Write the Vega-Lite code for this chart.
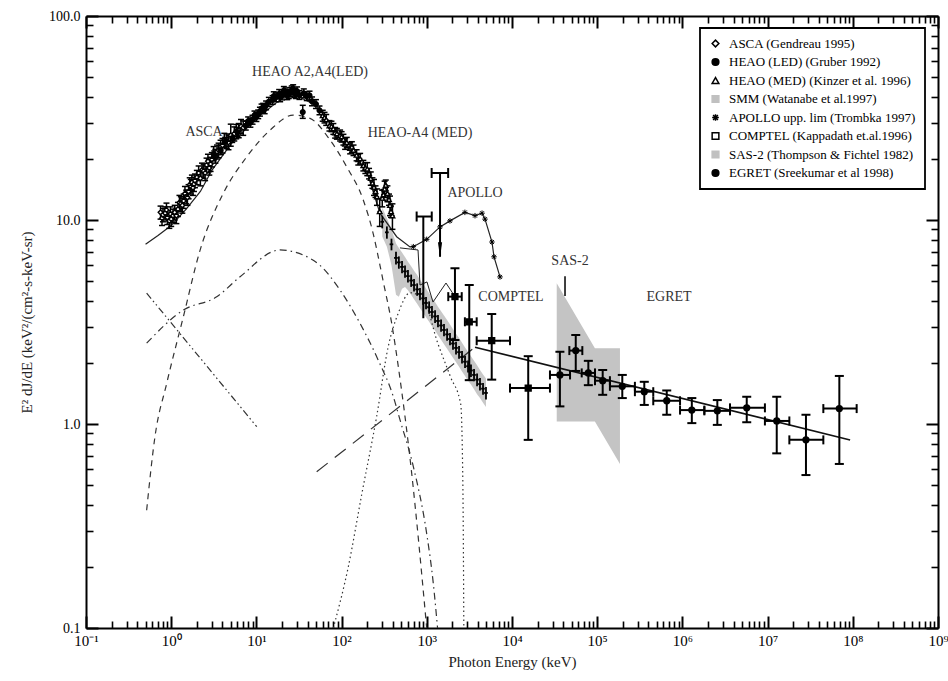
{
"$schema":"https://vega.github.io/schema/vega-lite/v6.json",
"width":852,"height":612,
"autosize":{"type":"none"},
"padding":{"left":86,"top":16,"right":10,"bottom":53},
"background":"white",
"config":{
 "view":{"stroke":null},
 "font":"Liberation Serif",
 "axis":{"domainColor":"black","domainWidth":2,"tickColor":"black","labelColor":"black","labelFont":"Liberation Serif","labelFontSize":14,"titleFont":"Liberation Serif","titleFontSize":15,"titleFontWeight":"normal","titleColor":"#222","labelOverlap":false,"labelFlush":false,"gridColor":"black","gridOpacity":1},
 "legend":{"strokeWidth":1.8}
},
"datasets":{
 "sas2":[{"E":33500,"lo":1.03,"hi":4.9},{"E":94000,"lo":1.03,"hi":2.35},{"E":185000,"lo":0.637,"hi":2.35}],
 "smm":[
  {"E":300,"y":9.8,"lo":9.1,"hi":10.5,"elo":285,"ehi":315,"blo":8.3,"bhi":11.5},
  {"E":340,"y":8.7,"lo":8.1,"hi":9.3,"elo":323,"ehi":357,"blo":7.4,"bhi":10.2},
  {"E":385,"y":7.6,"lo":7.1,"hi":8.1,"elo":366,"ehi":404,"blo":6.0,"bhi":9.0},
  {"E":435,"y":6.52,"lo":6.06,"hi":6.98,"elo":413,"ehi":457,"blo":4.3,"bhi":7.66},
  {"E":470,"y":6.2,"lo":5.77,"hi":6.63,"elo":447,"ehi":494,"blo":4.2,"bhi":7.3},
  {"E":512,"y":5.89,"lo":5.48,"hi":6.3,"elo":486,"ehi":538,"blo":4.6,"bhi":6.92},
  {"E":555,"y":5.6,"lo":5.21,"hi":5.99,"elo":527,"ehi":583,"blo":4.7,"bhi":6.58},
  {"E":601,"y":5.31,"lo":4.94,"hi":5.68,"elo":571,"ehi":631,"blo":4.52,"bhi":6.24},
  {"E":655,"y":5.05,"lo":4.7,"hi":5.4,"elo":622,"ehi":688,"blo":4.3,"bhi":5.93},
  {"E":708,"y":4.8,"lo":4.46,"hi":5.14,"elo":673,"ehi":743,"blo":4.09,"bhi":5.64},
  {"E":770,"y":4.57,"lo":4.25,"hi":4.89,"elo":732,"ehi":809,"blo":3.89,"bhi":5.37},
  {"E":832,"y":4.34,"lo":4.04,"hi":4.64,"elo":790,"ehi":874,"blo":3.69,"bhi":5.1},
  {"E":905,"y":4.13,"lo":3.84,"hi":4.42,"elo":860,"ehi":950,"blo":3.51,"bhi":4.85},
  {"E":979,"y":3.92,"lo":3.65,"hi":4.19,"elo":930,"ehi":1028,"blo":3.34,"bhi":4.61},
  {"E":1065,"y":3.73,"lo":3.47,"hi":3.99,"elo":1012,"ehi":1118,"blo":3.17,"bhi":4.38},
  {"E":1150,"y":3.54,"lo":3.29,"hi":3.79,"elo":1093,"ehi":1208,"blo":3.01,"bhi":4.16},
  {"E":1250,"y":3.37,"lo":3.13,"hi":3.61,"elo":1188,"ehi":1313,"blo":2.87,"bhi":3.96},
  {"E":1353,"y":3.2,"lo":2.98,"hi":3.42,"elo":1285,"ehi":1421,"blo":2.72,"bhi":3.76},
  {"E":1470,"y":3.04,"lo":2.83,"hi":3.25,"elo":1397,"ehi":1544,"blo":2.59,"bhi":3.57},
  {"E":1592,"y":2.89,"lo":2.69,"hi":3.09,"elo":1512,"ehi":1672,"blo":2.46,"bhi":3.4},
  {"E":1730,"y":2.75,"lo":2.56,"hi":2.94,"elo":1644,"ehi":1817,"blo":2.34,"bhi":3.23},
  {"E":1872,"y":2.61,"lo":2.43,"hi":2.79,"elo":1778,"ehi":1966,"blo":2.22,"bhi":3.07},
  {"E":2030,"y":2.48,"lo":2.31,"hi":2.65,"elo":1929,"ehi":2132,"blo":2.11,"bhi":2.91},
  {"E":2203,"y":2.36,"lo":2.19,"hi":2.53,"elo":2093,"ehi":2313,"blo":2.01,"bhi":2.77},
  {"E":2390,"y":2.25,"lo":2.09,"hi":2.41,"elo":2271,"ehi":2510,"blo":1.91,"bhi":2.64},
  {"E":2590,"y":2.13,"lo":1.98,"hi":2.28,"elo":2460,"ehi":2720,"blo":1.81,"bhi":2.5},
  {"E":2810,"y":2.02,"lo":1.88,"hi":2.16,"elo":2670,"ehi":2950,"blo":1.72,"bhi":2.37},
  {"E":3048,"y":1.92,"lo":1.79,"hi":2.05,"elo":2896,"ehi":3200,"blo":1.63,"bhi":2.26},
  {"E":3300,"y":1.83,"lo":1.7,"hi":1.96,"elo":3135,"ehi":3465,"blo":1.56,"bhi":2.15},
  {"E":3584,"y":1.74,"lo":1.62,"hi":1.86,"elo":3405,"ehi":3763,"blo":1.48,"bhi":2.04},
  {"E":3890,"y":1.65,"lo":1.53,"hi":1.77,"elo":3696,"ehi":4085,"blo":1.4,"bhi":1.94},
  {"E":4210,"y":1.57,"lo":1.46,"hi":1.68,"elo":4000,"ehi":4420,"blo":1.34,"bhi":1.84},
  {"E":4570,"y":1.49,"lo":1.39,"hi":1.59,"elo":4342,"ehi":4799,"blo":1.27,"bhi":1.75},
  {"E":4950,"y":1.42,"lo":1.32,"hi":1.52,"elo":4700,"ehi":5200,"blo":1.21,"bhi":1.67}
 ],
 "comps":[
  {"comp":"gauss","E":0.515,"y":0.378},{"comp":"gauss","E":0.645,"y":0.867},{"comp":"gauss","E":0.885,"y":1.58},{"comp":"gauss","E":1.39,"y":3.36},{"comp":"gauss","E":2.18,"y":7.1},{"comp":"gauss","E":4.08,"y":13.5},{"comp":"gauss","E":7.7,"y":20.4},{"comp":"gauss","E":14.5,"y":27.6},{"comp":"gauss","E":27.1,"y":32.7},{"comp":"gauss","E":42.6,"y":31.5},{"comp":"gauss","E":73,"y":24.7},{"comp":"gauss","E":115,"y":18.2},{"comp":"gauss","E":180,"y":12.5},{"comp":"gauss","E":236,"y":8.5},{"comp":"gauss","E":282,"y":6.0},{"comp":"gauss","E":308,"y":5.0},{"comp":"gauss","E":387,"y":3.12},{"comp":"gauss","E":463,"y":1.91},{"comp":"gauss","E":658,"y":0.596},{"comp":"gauss","E":997,"y":0.1},
  {"comp":"dashdot","E":0.515,"y":2.49},{"comp":"dashdot","E":1.39,"y":3.62},{"comp":"dashdot","E":3.42,"y":4.2},{"comp":"dashdot","E":6.43,"y":5.27},{"comp":"dashdot","E":18.9,"y":7.13},{"comp":"dashdot","E":35.5,"y":6.73},{"comp":"dashdot","E":55.7,"y":6.0},{"comp":"dashdot","E":95.7,"y":4.54},{"comp":"dashdot","E":164,"y":3.12},{"comp":"dashdot","E":270,"y":2.05},{"comp":"dashdot","E":405,"y":1.36},{"comp":"dashdot","E":484,"y":1.05},{"comp":"dashdot","E":695,"y":0.618},{"comp":"dashdot","E":996,"y":0.291},{"comp":"dashdot","E":1191,"y":0.166},{"comp":"dashdot","E":1337,"y":0.1},
  {"comp":"dashdotdot","E":0.515,"y":4.38},{"comp":"dashdotdot","E":10.1,"y":0.97},
  {"comp":"dotted","E":80,"y":0.1},{"comp":"dotted","E":120,"y":0.2},{"comp":"dotted","E":172,"y":0.45},{"comp":"dotted","E":258,"y":1.09},{"comp":"dotted","E":353,"y":2.4},{"comp":"dotted","E":463,"y":3.5},{"comp":"dotted","E":635,"y":4.4},{"comp":"dotted","E":910,"y":4.1},{"comp":"dotted","E":1340,"y":2.5},{"comp":"dotted","E":1900,"y":1.7},{"comp":"dotted","E":2500,"y":1.25},{"comp":"dotted","E":2620,"y":0.7},{"comp":"dotted","E":2680,"y":0.3},{"comp":"dotted","E":2720,"y":0.1},
  {"comp":"longdash","E":51,"y":0.583},{"comp":"longdash","E":3680,"y":2.38}
 ],
 "model":[
  {"E":0.5,"y":7.6},{"E":0.7,"y":8.4},{"E":1.0,"y":9.4},{"E":1.5,"y":11.3},{"E":2.2,"y":13.8},{"E":3,"y":17.5},{"E":5,"y":23.5},{"E":10,"y":31.5},{"E":20,"y":39.5},{"E":30,"y":40.5},{"E":50,"y":36.5},{"E":100,"y":25.5},{"E":200,"y":17.0},{"E":282,"y":10.8},{"E":443,"y":8.28},{"E":635,"y":7.38},{"E":695,"y":7.4},{"E":998,"y":8.04},{"E":1430,"y":9.25},{"E":1870,"y":9.9},{"E":2800,"y":10.9},{"E":3680,"y":10.5},{"E":4450,"y":10.8},{"E":4820,"y":10.1},{"E":5820,"y":7.8},{"E":6150,"y":6.6},{"E":7230,"y":5.26}
 ],
 "apollo":[
  {"E":695,"y":7.4,"src":"APOLLO upp. lim (Trombka 1997)"},{"E":998,"y":8.04,"src":"APOLLO upp. lim (Trombka 1997)"},{"E":1430,"y":9.25,"src":"APOLLO upp. lim (Trombka 1997)"},{"E":1870,"y":9.9,"src":"APOLLO upp. lim (Trombka 1997)"},{"E":2800,"y":10.9,"src":"APOLLO upp. lim (Trombka 1997)"},{"E":3680,"y":10.5,"src":"APOLLO upp. lim (Trombka 1997)"},{"E":4450,"y":10.8,"src":"APOLLO upp. lim (Trombka 1997)"},{"E":4820,"y":10.1,"src":"APOLLO upp. lim (Trombka 1997)"},{"E":5820,"y":7.8,"src":"APOLLO upp. lim (Trombka 1997)"},{"E":6150,"y":6.6,"src":"APOLLO upp. lim (Trombka 1997)"},{"E":7230,"y":5.26,"src":"APOLLO upp. lim (Trombka 1997)"}
 ],
 "egl":[{"E":3680,"y":2.38},{"E":93000000,"y":0.835}],
 "jag":[{"E":484,"y":7.3},{"E":789,"y":7.13},{"E":832,"y":4.8},{"E":1005,"y":4.97},{"E":1182,"y":3.96},{"E":1680,"y":4.91},{"E":1976,"y":4.43},{"E":2203,"y":4.15}],
 "sastick":[{"E":41900,"lo":4.24,"hi":5.3}],
 "ul":[{"E":1430,"top":17.0,"bot":6.6,"elo":1140,"ehi":1780},{"E":910,"top":10.4,"bot":3.3,"elo":760,"ehi":1143}],
 "arrow":[{"E":1430,"y":7.15}],
 "gam":[
  {"E":2140,"y":4.21,"lo":2.58,"hi":5.8,"elo":1786,"ehi":2570,"src":"COMPTEL (Kappadath et.al.1996)"},
  {"E":3150,"y":3.17,"lo":1.64,"hi":4.8,"elo":2800,"ehi":3850,"src":"COMPTEL (Kappadath et.al.1996)"},
  {"E":5780,"y":2.56,"lo":1.65,"hi":3.46,"elo":3850,"ehi":9480,"src":"COMPTEL (Kappadath et.al.1996)"},
  {"E":15500,"y":1.5,"lo":0.836,"hi":2.15,"elo":9480,"ehi":27900,"src":"COMPTEL (Kappadath et.al.1996)"},
  {"E":36500,"y":1.74,"lo":1.22,"hi":2.26,"elo":27900,"ehi":48000,"src":"EGRET (Sreekumar et al 1998)"},
  {"E":56000,"y":2.29,"lo":1.82,"hi":2.73,"elo":47100,"ehi":66900,"src":"EGRET (Sreekumar et al 1998)"},
  {"E":78700,"y":1.78,"lo":1.55,"hi":2.04,"elo":65800,"ehi":94200,"src":"EGRET (Sreekumar et al 1998)"},
  {"E":116000,"y":1.63,"lo":1.39,"hi":1.84,"elo":94200,"ehi":141000,"src":"EGRET (Sreekumar et al 1998)"},
  {"E":197000,"y":1.53,"lo":1.34,"hi":1.74,"elo":141000,"ehi":277000,"src":"EGRET (Sreekumar et al 1998)"},
  {"E":357000,"y":1.44,"lo":1.24,"hi":1.61,"elo":277000,"ehi":455000,"src":"EGRET (Sreekumar et al 1998)"},
  {"E":655000,"y":1.3,"lo":1.11,"hi":1.46,"elo":455000,"ehi":938000,"src":"EGRET (Sreekumar et al 1998)"},
  {"E":1290000,"y":1.17,"lo":1.01,"hi":1.34,"elo":938000,"ehi":1810000,"src":"EGRET (Sreekumar et al 1998)"},
  {"E":2570000,"y":1.16,"lo":0.99,"hi":1.31,"elo":1810000,"ehi":3620000,"src":"EGRET (Sreekumar et al 1998)"},
  {"E":5690000,"y":1.2,"lo":1.02,"hi":1.36,"elo":3620000,"ehi":9300000,"src":"EGRET (Sreekumar et al 1998)"},
  {"E":12800000,"y":1.035,"lo":0.718,"hi":1.36,"elo":9300000,"ehi":18000000,"src":"EGRET (Sreekumar et al 1998)"},
  {"E":28200000,"y":0.836,"lo":0.562,"hi":1.11,"elo":18000000,"ehi":45100000,"src":"EGRET (Sreekumar et al 1998)"},
  {"E":69500000,"y":1.19,"lo":0.637,"hi":1.72,"elo":45100000,"ehi":111000000,"src":"EGRET (Sreekumar et al 1998)"}
 ],
 "heao":[
  {"E":0.75,"y":10.9,"lo":10.1,"hi":11.7,"elo":0.7,"ehi":0.8,"src":"ASCA (Gendreau 1995)"},
  {"E":0.78,"y":10.2,"lo":9.4,"hi":11.0,"elo":0.74,"ehi":0.82,"src":"ASCA (Gendreau 1995)"},
  {"E":0.8,"y":10.6,"lo":9.8,"hi":11.4,"elo":0.74,"ehi":0.86,"src":"ASCA (Gendreau 1995)"},
  {"E":0.85,"y":10.8,"lo":10.0,"hi":11.6,"elo":0.79,"ehi":0.91,"src":"ASCA (Gendreau 1995)"},
  {"E":0.88,"y":11.2,"lo":10.3,"hi":12.1,"elo":0.84,"ehi":0.92,"src":"ASCA (Gendreau 1995)"},
  {"E":0.9,"y":10.3,"lo":9.5,"hi":11.1,"elo":0.84,"ehi":0.96,"src":"ASCA (Gendreau 1995)"},
  {"E":0.95,"y":9.9,"lo":9.1,"hi":10.7,"elo":0.88,"ehi":1.02,"src":"ASCA (Gendreau 1995)"},
  {"E":0.98,"y":10.7,"lo":9.8,"hi":11.6,"elo":0.93,"ehi":1.03,"src":"ASCA (Gendreau 1995)"},
  {"E":1.0,"y":10.1,"lo":9.3,"hi":10.9,"elo":0.93,"ehi":1.07,"src":"ASCA (Gendreau 1995)"},
  {"E":1.05,"y":10.5,"lo":9.7,"hi":11.3,"elo":0.98,"ehi":1.12,"src":"ASCA (Gendreau 1995)"},
  {"E":1.1,"y":10.9,"lo":10.0,"hi":11.8,"elo":1.02,"ehi":1.18,"src":"ASCA (Gendreau 1995)"},
  {"E":1.15,"y":10.5,"lo":9.6,"hi":11.4,"elo":1.09,"ehi":1.21,"src":"ASCA (Gendreau 1995)"},
  {"E":1.2,"y":11.3,"lo":10.4,"hi":12.2,"elo":1.12,"ehi":1.28,"src":"ASCA (Gendreau 1995)"},
  {"E":1.25,"y":12.2,"lo":11.2,"hi":13.2,"elo":1.19,"ehi":1.31,"src":"ASCA (Gendreau 1995)"},
  {"E":1.3,"y":12.0,"lo":11.0,"hi":13.0,"elo":1.21,"ehi":1.39,"src":"ASCA (Gendreau 1995)"},
  {"E":1.35,"y":11.8,"lo":10.8,"hi":12.8,"elo":1.28,"ehi":1.42,"src":"ASCA (Gendreau 1995)"},
  {"E":1.4,"y":12.4,"lo":11.4,"hi":13.4,"elo":1.3,"ehi":1.5,"src":"ASCA (Gendreau 1995)"},
  {"E":1.45,"y":13.5,"lo":12.4,"hi":14.6,"elo":1.38,"ehi":1.52,"src":"ASCA (Gendreau 1995)"},
  {"E":1.5,"y":13.0,"lo":12.0,"hi":14.0,"elo":1.4,"ehi":1.6,"src":"ASCA (Gendreau 1995)"},
  {"E":1.55,"y":12.9,"lo":11.8,"hi":14.0,"elo":1.47,"ehi":1.63,"src":"ASCA (Gendreau 1995)"},
  {"E":1.6,"y":13.8,"lo":12.7,"hi":14.9,"elo":1.49,"ehi":1.71,"src":"ASCA (Gendreau 1995)"},
  {"E":1.65,"y":14.9,"lo":13.7,"hi":16.1,"elo":1.57,"ehi":1.73,"src":"ASCA (Gendreau 1995)"},
  {"E":1.7,"y":14.6,"lo":13.4,"hi":15.8,"elo":1.58,"ehi":1.82,"src":"ASCA (Gendreau 1995)"},
  {"E":1.75,"y":15.3,"lo":14.0,"hi":16.6,"elo":1.66,"ehi":1.84,"src":"ASCA (Gendreau 1995)"},
  {"E":1.8,"y":14.4,"lo":13.2,"hi":15.6,"elo":1.67,"ehi":1.93,"src":"ASCA (Gendreau 1995)"},
  {"E":1.85,"y":15.0,"lo":13.8,"hi":16.2,"elo":1.76,"ehi":1.94,"src":"ASCA (Gendreau 1995)"},
  {"E":1.9,"y":15.6,"lo":14.4,"hi":16.8,"elo":1.77,"ehi":2.03,"src":"ASCA (Gendreau 1995)"},
  {"E":2.0,"y":16.2,"lo":14.9,"hi":17.5,"elo":1.86,"ehi":2.14,"src":"ASCA (Gendreau 1995)"},
  {"E":2.1,"y":17.0,"lo":15.6,"hi":18.4,"elo":2.0,"ehi":2.2,"src":"ASCA (Gendreau 1995)"},
  {"E":2.2,"y":16.0,"lo":14.7,"hi":17.3,"elo":2.05,"ehi":2.35,"src":"ASCA (Gendreau 1995)"},
  {"E":2.3,"y":17.6,"lo":16.2,"hi":19.0,"elo":2.19,"ehi":2.41,"src":"ASCA (Gendreau 1995)"},
  {"E":2.4,"y":17.4,"lo":16.0,"hi":18.8,"elo":2.23,"ehi":2.57,"src":"ASCA (Gendreau 1995)"},
  {"E":2.5,"y":17.0,"lo":15.6,"hi":18.4,"elo":2.38,"ehi":2.62,"src":"ASCA (Gendreau 1995)"},
  {"E":2.6,"y":18.6,"lo":17.1,"hi":20.1,"elo":2.42,"ehi":2.78,"src":"ASCA (Gendreau 1995)"},
  {"E":2.7,"y":19.4,"lo":17.8,"hi":21.0,"elo":2.57,"ehi":2.83,"src":"ASCA (Gendreau 1995)"},
  {"E":2.8,"y":18.0,"lo":16.6,"hi":19.4,"elo":2.6,"ehi":3.0,"src":"ASCA (Gendreau 1995)"},
  {"E":2.9,"y":18.8,"lo":17.3,"hi":20.3,"elo":2.76,"ehi":3.04,"src":"ASCA (Gendreau 1995)"},
  {"E":3.0,"y":19.8,"lo":18.2,"hi":21.4,"elo":2.79,"ehi":3.21,"src":"ASCA (Gendreau 1995)"},
  {"E":3.15,"y":21.2,"lo":19.5,"hi":22.9,"elo":3.0,"ehi":3.3,"src":"ASCA (Gendreau 1995)"},
  {"E":3.3,"y":20.6,"lo":19.0,"hi":22.2,"elo":3.07,"ehi":3.53,"src":"ASCA (Gendreau 1995)"},
  {"E":3.45,"y":21.6,"lo":19.9,"hi":23.3,"elo":3.28,"ehi":3.62,"src":"ASCA (Gendreau 1995)"},
  {"E":3.6,"y":22.0,"lo":20.2,"hi":23.8,"elo":3.35,"ehi":3.85,"src":"ASCA (Gendreau 1995)"},
  {"E":3.8,"y":22.8,"lo":21.0,"hi":24.6,"elo":3.61,"ehi":3.99,"src":"ASCA (Gendreau 1995)"},
  {"E":4.0,"y":23.2,"lo":21.3,"hi":25.1,"elo":3.72,"ehi":4.28,"src":"ASCA (Gendreau 1995)"},
  {"E":4.2,"y":24.6,"lo":22.6,"hi":26.6,"elo":4.0,"ehi":4.4,"src":"ASCA (Gendreau 1995)"},
  {"E":4.5,"y":24.4,"lo":22.4,"hi":26.4,"elo":4.19,"ehi":4.81,"src":"ASCA (Gendreau 1995)"},
  {"E":4.7,"y":24.0,"lo":22.1,"hi":25.9,"elo":4.47,"ehi":4.93,"src":"ASCA (Gendreau 1995)"},
  {"E":5.0,"y":26.0,"lo":23.0,"hi":29.5,"elo":4.65,"ehi":5.35,"src":"ASCA (Gendreau 1995)"},
  {"E":5.5,"y":26.5,"lo":24.4,"hi":28.6,"elo":5.12,"ehi":5.88,"src":"ASCA (Gendreau 1995)"},
  {"E":5.8,"y":27.2,"lo":25.0,"hi":29.4,"elo":5.5,"ehi":6.1,"src":"ASCA (Gendreau 1995)"},
  {"E":6.2,"y":27.5,"lo":25.3,"hi":29.7,"elo":5.77,"ehi":6.63,"src":"ASCA (Gendreau 1995)"},
  {"E":6.6,"y":28.8,"lo":26.5,"hi":31.1,"elo":6.3,"ehi":6.9,"src":"ASCA (Gendreau 1995)"},
  {"E":7.0,"y":28.3,"lo":26.0,"hi":30.6,"elo":6.51,"ehi":7.49,"src":"ASCA (Gendreau 1995)"},
  {"E":3.2,"y":20.8,"lo":19.8,"hi":21.8,"elo":3.01,"ehi":3.39,"src":"HEAO (LED) (Gruber 1992)"},
  {"E":3.8,"y":22.0,"lo":20.9,"hi":23.1,"elo":3.57,"ehi":4.03,"src":"HEAO (LED) (Gruber 1992)"},
  {"E":4.3,"y":24.2,"lo":23.0,"hi":25.4,"elo":4.04,"ehi":4.56,"src":"HEAO (LED) (Gruber 1992)"},
  {"E":5.2,"y":25.2,"lo":24.0,"hi":26.5,"elo":4.89,"ehi":5.51,"src":"HEAO (LED) (Gruber 1992)"},
  {"E":6.0,"y":27.0,"lo":25.7,"hi":28.4,"elo":5.64,"ehi":6.36,"src":"HEAO (LED) (Gruber 1992)"},
  {"E":7.5,"y":29.0,"lo":27.6,"hi":30.5,"elo":7.05,"ehi":7.95,"src":"HEAO (LED) (Gruber 1992)"},
  {"E":8.0,"y":30.5,"lo":29.0,"hi":32.0,"elo":7.52,"ehi":8.48,"src":"HEAO (LED) (Gruber 1992)"},
  {"E":8.5,"y":30.0,"lo":28.5,"hi":31.5,"elo":8.0,"ehi":9.0,"src":"HEAO (LED) (Gruber 1992)"},
  {"E":9.0,"y":31.0,"lo":29.5,"hi":32.6,"elo":8.46,"ehi":9.54,"src":"HEAO (LED) (Gruber 1992)"},
  {"E":9.5,"y":32.6,"lo":31.0,"hi":34.2,"elo":8.9,"ehi":10.1,"src":"HEAO (LED) (Gruber 1992)"},
  {"E":10,"y":32.0,"lo":30.4,"hi":33.6,"elo":9.4,"ehi":10.6,"src":"HEAO (LED) (Gruber 1992)"},
  {"E":10.5,"y":33.0,"lo":31.4,"hi":34.6,"elo":9.9,"ehi":11.1,"src":"HEAO (LED) (Gruber 1992)"},
  {"E":11,"y":34.0,"lo":32.3,"hi":35.7,"elo":10.3,"ehi":11.7,"src":"HEAO (LED) (Gruber 1992)"},
  {"E":11.5,"y":35.2,"lo":33.4,"hi":37.0,"elo":10.8,"ehi":12.2,"src":"HEAO (LED) (Gruber 1992)"},
  {"E":12,"y":35.5,"lo":33.7,"hi":37.3,"elo":11.3,"ehi":12.7,"src":"HEAO (LED) (Gruber 1992)"},
  {"E":12.5,"y":35.0,"lo":33.2,"hi":36.8,"elo":11.8,"ehi":13.2,"src":"HEAO (LED) (Gruber 1992)"},
  {"E":13,"y":36.5,"lo":34.7,"hi":38.3,"elo":12.2,"ehi":13.8,"src":"HEAO (LED) (Gruber 1992)"},
  {"E":14,"y":38.0,"lo":36.1,"hi":39.9,"elo":13.2,"ehi":14.8,"src":"HEAO (LED) (Gruber 1992)"},
  {"E":15.5,"y":38.8,"lo":36.9,"hi":40.7,"elo":14.6,"ehi":16.4,"src":"HEAO (LED) (Gruber 1992)"},
  {"E":16,"y":40.5,"lo":38.5,"hi":42.5,"elo":15.0,"ehi":17.0,"src":"HEAO (LED) (Gruber 1992)"},
  {"E":17,"y":40.0,"lo":38.0,"hi":42.0,"elo":16.0,"ehi":18.0,"src":"HEAO (LED) (Gruber 1992)"},
  {"E":18.5,"y":41.5,"lo":39.4,"hi":43.6,"elo":17.4,"ehi":19.6,"src":"HEAO (LED) (Gruber 1992)"},
  {"E":19,"y":40.0,"lo":38.0,"hi":42.0,"elo":17.9,"ehi":20.1,"src":"HEAO (LED) (Gruber 1992)"},
  {"E":20,"y":40.8,"lo":38.8,"hi":42.8,"elo":18.8,"ehi":21.2,"src":"HEAO (LED) (Gruber 1992)"},
  {"E":21,"y":43.0,"lo":40.9,"hi":45.1,"elo":19.7,"ehi":22.3,"src":"HEAO (LED) (Gruber 1992)"},
  {"E":22,"y":42.3,"lo":40.2,"hi":44.4,"elo":20.7,"ehi":23.3,"src":"HEAO (LED) (Gruber 1992)"},
  {"E":23,"y":40.9,"lo":38.9,"hi":42.9,"elo":21.6,"ehi":24.4,"src":"HEAO (LED) (Gruber 1992)"},
  {"E":24,"y":41.5,"lo":39.4,"hi":43.6,"elo":22.6,"ehi":25.4,"src":"HEAO (LED) (Gruber 1992)"},
  {"E":25,"y":42.5,"lo":40.4,"hi":44.6,"elo":23.5,"ehi":26.5,"src":"HEAO (LED) (Gruber 1992)"},
  {"E":26,"y":43.2,"lo":41.0,"hi":45.4,"elo":24.4,"ehi":27.6,"src":"HEAO (LED) (Gruber 1992)"},
  {"E":27,"y":43.8,"lo":41.6,"hi":46.0,"elo":25.4,"ehi":28.6,"src":"HEAO (LED) (Gruber 1992)"},
  {"E":28,"y":42.0,"lo":39.9,"hi":44.1,"elo":26.3,"ehi":29.7,"src":"HEAO (LED) (Gruber 1992)"},
  {"E":29,"y":41.5,"lo":39.4,"hi":43.6,"elo":27.3,"ehi":30.7,"src":"HEAO (LED) (Gruber 1992)"},
  {"E":30,"y":42.8,"lo":40.7,"hi":44.9,"elo":28.2,"ehi":31.8,"src":"HEAO (LED) (Gruber 1992)"},
  {"E":32,"y":41.0,"lo":39.0,"hi":43.0,"elo":30.1,"ehi":33.9,"src":"HEAO (LED) (Gruber 1992)"},
  {"E":35,"y":33.8,"lo":31.5,"hi":36.5,"elo":32.9,"ehi":37.1,"src":"HEAO (LED) (Gruber 1992)"},
  {"E":36,"y":41.8,"lo":39.7,"hi":43.9,"elo":33.8,"ehi":38.2,"src":"HEAO (LED) (Gruber 1992)"},
  {"E":39,"y":40.5,"lo":38.5,"hi":42.5,"elo":36.7,"ehi":41.3,"src":"HEAO (LED) (Gruber 1992)"},
  {"E":42,"y":40.8,"lo":38.8,"hi":42.8,"elo":39.5,"ehi":44.5,"src":"HEAO (LED) (Gruber 1992)"},
  {"E":45,"y":38.2,"lo":36.3,"hi":40.1,"elo":42.3,"ehi":47.7,"src":"HEAO (LED) (Gruber 1992)"},
  {"E":50,"y":37.0,"lo":35.2,"hi":38.9,"elo":47,"ehi":53,"src":"HEAO (LED) (Gruber 1992)"},
  {"E":55,"y":34.5,"lo":32.8,"hi":36.2,"elo":51.7,"ehi":58.3,"src":"HEAO (LED) (Gruber 1992)"},
  {"E":60,"y":32.5,"lo":30.5,"hi":34.5,"elo":56.4,"ehi":63.6,"src":"HEAO (MED) (Kinzer et al. 1996)"},
  {"E":63,"y":31.8,"lo":29.9,"hi":33.7,"elo":59,"ehi":67,"src":"HEAO (MED) (Kinzer et al. 1996)"},
  {"E":66,"y":31.0,"lo":29.1,"hi":32.9,"elo":62,"ehi":70,"src":"HEAO (MED) (Kinzer et al. 1996)"},
  {"E":72,"y":29.0,"lo":27.3,"hi":30.7,"elo":67.7,"ehi":76.3,"src":"HEAO (MED) (Kinzer et al. 1996)"},
  {"E":76,"y":28.8,"lo":27.1,"hi":30.5,"elo":71,"ehi":81,"src":"HEAO (MED) (Kinzer et al. 1996)"},
  {"E":80,"y":28.0,"lo":26.3,"hi":29.7,"elo":75.2,"ehi":84.8,"src":"HEAO (MED) (Kinzer et al. 1996)"},
  {"E":84,"y":26.8,"lo":25.2,"hi":28.4,"elo":79,"ehi":89,"src":"HEAO (MED) (Kinzer et al. 1996)"},
  {"E":88,"y":26.5,"lo":24.9,"hi":28.1,"elo":82.7,"ehi":93.3,"src":"HEAO (MED) (Kinzer et al. 1996)"},
  {"E":96,"y":26.0,"lo":24.4,"hi":27.6,"elo":90.2,"ehi":101.8,"src":"HEAO (MED) (Kinzer et al. 1996)"},
  {"E":100,"y":25.6,"lo":24.1,"hi":27.1,"elo":94,"ehi":106,"src":"HEAO (MED) (Kinzer et al. 1996)"},
  {"E":105,"y":24.8,"lo":23.3,"hi":26.3,"elo":98.7,"ehi":111.3,"src":"HEAO (MED) (Kinzer et al. 1996)"},
  {"E":110,"y":23.6,"lo":22.2,"hi":25.0,"elo":103,"ehi":117,"src":"HEAO (MED) (Kinzer et al. 1996)"},
  {"E":115,"y":24.0,"lo":22.6,"hi":25.4,"elo":108,"ehi":122,"src":"HEAO (MED) (Kinzer et al. 1996)"},
  {"E":126,"y":22.5,"lo":21.1,"hi":23.9,"elo":118,"ehi":134,"src":"HEAO (MED) (Kinzer et al. 1996)"},
  {"E":132,"y":22.8,"lo":21.4,"hi":24.2,"elo":124,"ehi":140,"src":"HEAO (MED) (Kinzer et al. 1996)"},
  {"E":138,"y":22.0,"lo":20.7,"hi":23.3,"elo":130,"ehi":146,"src":"HEAO (MED) (Kinzer et al. 1996)"},
  {"E":150,"y":20.8,"lo":19.5,"hi":22.1,"elo":141,"ehi":159,"src":"HEAO (MED) (Kinzer et al. 1996)"},
  {"E":157,"y":19.8,"lo":18.6,"hi":21.0,"elo":148,"ehi":166,"src":"HEAO (MED) (Kinzer et al. 1996)"},
  {"E":165,"y":20.0,"lo":18.8,"hi":21.2,"elo":155,"ehi":175,"src":"HEAO (MED) (Kinzer et al. 1996)"},
  {"E":180,"y":18.5,"lo":17.4,"hi":19.6,"elo":169,"ehi":191,"src":"HEAO (MED) (Kinzer et al. 1996)"},
  {"E":190,"y":18.0,"lo":16.9,"hi":19.1,"elo":179,"ehi":201,"src":"HEAO (MED) (Kinzer et al. 1996)"},
  {"E":200,"y":17.8,"lo":16.5,"hi":19.1,"elo":188,"ehi":212,"src":"HEAO (MED) (Kinzer et al. 1996)"},
  {"E":210,"y":16.9,"lo":15.9,"hi":17.9,"elo":197,"ehi":223,"src":"HEAO (MED) (Kinzer et al. 1996)"},
  {"E":220,"y":16.0,"lo":14.8,"hi":17.2,"elo":207,"ehi":233,"src":"HEAO (MED) (Kinzer et al. 1996)"},
  {"E":230,"y":15.2,"lo":14.3,"hi":16.1,"elo":216,"ehi":244,"src":"HEAO (MED) (Kinzer et al. 1996)"},
  {"E":240,"y":14.5,"lo":13.2,"hi":15.8,"elo":226,"ehi":254,"src":"HEAO (MED) (Kinzer et al. 1996)"},
  {"E":250,"y":13.8,"lo":12.9,"hi":14.7,"elo":235,"ehi":265,"src":"HEAO (MED) (Kinzer et al. 1996)"},
  {"E":260,"y":13.0,"lo":11.8,"hi":14.2,"elo":244,"ehi":276,"src":"HEAO (MED) (Kinzer et al. 1996)"},
  {"E":280,"y":11.0,"lo":9.3,"hi":12.7,"elo":263,"ehi":297,"src":"HEAO (MED) (Kinzer et al. 1996)"},
  {"E":300,"y":12.8,"lo":11.6,"hi":14.0,"elo":282,"ehi":318,"src":"HEAO (MED) (Kinzer et al. 1996)"},
  {"E":310,"y":13.3,"lo":12.5,"hi":14.1,"elo":291,"ehi":329,"src":"HEAO (MED) (Kinzer et al. 1996)"},
  {"E":320,"y":14.2,"lo":12.9,"hi":15.5,"elo":301,"ehi":339,"src":"HEAO (MED) (Kinzer et al. 1996)"},
  {"E":330,"y":14.8,"lo":13.9,"hi":15.7,"elo":310,"ehi":350,"src":"HEAO (MED) (Kinzer et al. 1996)"},
  {"E":345,"y":13.5,"lo":12.3,"hi":14.7,"elo":324,"ehi":366,"src":"HEAO (MED) (Kinzer et al. 1996)"},
  {"E":360,"y":12.6,"lo":11.8,"hi":13.4,"elo":338,"ehi":382,"src":"HEAO (MED) (Kinzer et al. 1996)"},
  {"E":370,"y":11.8,"lo":10.5,"hi":13.1,"elo":348,"ehi":392,"src":"HEAO (MED) (Kinzer et al. 1996)"},
  {"E":380,"y":11.0,"lo":10.3,"hi":11.7,"elo":357,"ehi":403,"src":"HEAO (MED) (Kinzer et al. 1996)"},
  {"E":395,"y":10.5,"lo":9.0,"hi":12.0,"elo":371,"ehi":419,"src":"HEAO (MED) (Kinzer et al. 1996)"}
 ],
 "labels":[
  {"E":42.6,"y":53.1,"t":"HEAO A2,A4(LED)"},
  {"E":2.43,"y":27.0,"t":"ASCA"},
  {"E":832,"y":26.7,"t":"HEAO-A4 (MED)"},
  {"E":3680,"y":13.6,"t":"APOLLO"},
  {"E":9730,"y":4.2,"t":"COMPTEL"},
  {"E":48000,"y":6.3,"t":"SAS-2"},
  {"E":697000,"y":4.2,"t":"EGRET"}
 ]
},
"layer":[
  {"data":{"name":"sas2"},"mark":{"type":"area","color":"#c4c4c4","opacity":1},
   "encoding":{
    "x":{"field":"E","type":"quantitative","scale":{"type":"log","domain":[0.1,1000000000],"nice":false},
      "axis":{"orient":"bottom","values":[0.1,0.2,0.3,0.4,0.5,0.6,0.7,0.8,0.9,1,2,3,4,5,6,7,8,9,10,20,30,40,50,60,70,80,90,100,200,300,400,500,600,700,800,900,1000,2000,3000,4000,5000,6000,7000,8000,9000,10000,20000,30000,40000,50000,60000,70000,80000,90000,100000,200000,300000,400000,500000,600000,700000,800000,900000,1000000,2000000,3000000,4000000,5000000,6000000,7000000,8000000,9000000,10000000,20000000,30000000,40000000,50000000,60000000,70000000,80000000,90000000,100000000,200000000,300000000,400000000,500000000,600000000,700000000,800000000,900000000,1000000000],
       "ticks":false,"grid":true,
       "gridDash":{"condition":{"test":"abs(log(datum.value)/LN10-round(log(datum.value)/LN10))<0.001","value":[12,3000]},"value":[7,3000]},
       "gridWidth":{"condition":{"test":"abs(log(datum.value)/LN10-round(log(datum.value)/LN10))<0.001","value":2},"value":1.6},
       "labelExpr":"abs(log(datum.value)/LN10-round(log(datum.value)/LN10))<0.001 ? '10'+['⁻¹','⁰','¹','²','³','⁴','⁵','⁶','⁷','⁸','⁹'][round(log(datum.value)/LN10)+1] : ''",
       "labelPadding":5,"labelFontSize":15,"title":"Photon Energy (keV)","titlePadding":6}},
    "y":{"field":"lo","type":"quantitative","scale":{"type":"log","domain":[0.1,100],"nice":false},
      "axis":{"orient":"left","values":[0.1,0.2,0.3,0.4,0.5,0.6,0.7,0.8,0.9,1,2,3,4,5,6,7,8,9,10,20,30,40,50,60,70,80,90,100],
       "ticks":false,"grid":true,
       "gridDash":{"condition":{"test":"abs(log(datum.value)/LN10-round(log(datum.value)/LN10))<0.001","value":[12,3000]},"value":[7,3000]},
       "gridWidth":{"condition":{"test":"abs(log(datum.value)/LN10-round(log(datum.value)/LN10))<0.001","value":2},"value":1.6},
       "labelExpr":"abs(log(datum.value)/LN10-round(log(datum.value)/LN10))<0.001 ? format(datum.value,'.1f') : ''",
       "labelPadding":6,"title":"E² dJ/dE (keV²/(cm²-s-keV-sr)","titlePadding":14}},
    "y2":{"field":"hi"}}},
  {"data":{"name":"smm"},"mark":{"type":"area","color":"#c8c8c8","opacity":1},
   "encoding":{"x":{"field":"E","type":"quantitative","scale":{"type":"log","domain":[0.1,1000000000],"nice":false},"axis":null},
    "y":{"field":"blo","type":"quantitative","scale":{"type":"log","domain":[0.1,100],"nice":false},"axis":null},
    "y2":{"field":"bhi"}}},
  {"data":{"name":"comps"},"mark":{"type":"line","color":"#333","strokeWidth":1.2,"interpolate":"monotone"},
   "encoding":{"x":{"field":"E","type":"quantitative","scale":{"type":"log","domain":[0.1,1000000000],"nice":false},"axis":null},
    "y":{"field":"y","type":"quantitative","scale":{"type":"log","domain":[0.1,100],"nice":false},"axis":null},
    "strokeDash":{"field":"comp","type":"nominal","scale":{"domain":["gauss","dashdot","dashdotdot","dotted","longdash"],"range":[[6,5],[7,4,1.5,4],[7,3,1.5,3,1.5,3],[1.5,3],[14,9]]},"legend":null}}},
  {"data":{"name":"model"},"mark":{"type":"line","color":"#222","strokeWidth":1.2},
   "encoding":{"x":{"field":"E","type":"quantitative","scale":{"type":"log","domain":[0.1,1000000000],"nice":false},"axis":null},
    "y":{"field":"y","type":"quantitative","scale":{"type":"log","domain":[0.1,100],"nice":false},"axis":null}}},
  {"data":{"name":"egl"},"mark":{"type":"line","color":"#111","strokeWidth":1.6},
   "encoding":{"x":{"field":"E","type":"quantitative","scale":{"type":"log","domain":[0.1,1000000000],"nice":false},"axis":null},
    "y":{"field":"y","type":"quantitative","scale":{"type":"log","domain":[0.1,100],"nice":false},"axis":null}}},
  {"data":{"name":"jag"},"mark":{"type":"line","color":"#222","strokeWidth":1},
   "encoding":{"x":{"field":"E","type":"quantitative","scale":{"type":"log","domain":[0.1,1000000000],"nice":false},"axis":null},
    "y":{"field":"y","type":"quantitative","scale":{"type":"log","domain":[0.1,100],"nice":false},"axis":null}}},
  {"data":{"name":"sastick"},"mark":{"type":"rule","color":"black","strokeWidth":1.5},
   "encoding":{"x":{"field":"E","type":"quantitative","scale":{"type":"log","domain":[0.1,1000000000],"nice":false},"axis":null},
    "y":{"field":"lo","type":"quantitative","scale":{"type":"log","domain":[0.1,100],"nice":false},"axis":null},
    "y2":{"field":"hi"}}},
  {"data":{"name":"heao"},"mark":{"type":"rule","color":"black","strokeWidth":1.5},
   "encoding":{"x":{"field":"E","type":"quantitative","scale":{"type":"log","domain":[0.1,1000000000],"nice":false},"axis":null},
    "y":{"field":"lo","type":"quantitative","scale":{"type":"log","domain":[0.1,100],"nice":false},"axis":null},"y2":{"field":"hi"}}},
  {"data":{"name":"heao"},"mark":{"type":"rule","color":"black","strokeWidth":1.5},
   "encoding":{"x":{"field":"elo","type":"quantitative","scale":{"type":"log","domain":[0.1,1000000000],"nice":false},"axis":null},"x2":{"field":"ehi"},
    "y":{"field":"y","type":"quantitative","scale":{"type":"log","domain":[0.1,100],"nice":false},"axis":null}}},
  {"data":{"name":"heao"},"mark":{"type":"tick","orient":"horizontal","color":"black","size":6,"thickness":1.5,"opacity":1},
   "encoding":{"x":{"field":"E","type":"quantitative","scale":{"type":"log","domain":[0.1,1000000000],"nice":false},"axis":null},
    "y":{"field":"lo","type":"quantitative","scale":{"type":"log","domain":[0.1,100],"nice":false},"axis":null}}},
  {"data":{"name":"heao"},"mark":{"type":"tick","orient":"horizontal","color":"black","size":6,"thickness":1.5,"opacity":1},
   "encoding":{"x":{"field":"E","type":"quantitative","scale":{"type":"log","domain":[0.1,1000000000],"nice":false},"axis":null},
    "y":{"field":"hi","type":"quantitative","scale":{"type":"log","domain":[0.1,100],"nice":false},"axis":null}}},
  {"data":{"name":"smm"},"mark":{"type":"rule","color":"black","strokeWidth":1.8},
   "encoding":{"x":{"field":"E","type":"quantitative","scale":{"type":"log","domain":[0.1,1000000000],"nice":false},"axis":null},
    "y":{"field":"lo","type":"quantitative","scale":{"type":"log","domain":[0.1,100],"nice":false},"axis":null},"y2":{"field":"hi"}}},
  {"data":{"name":"smm"},"mark":{"type":"rule","color":"black","strokeWidth":1.8},
   "encoding":{"x":{"field":"elo","type":"quantitative","scale":{"type":"log","domain":[0.1,1000000000],"nice":false},"axis":null},"x2":{"field":"ehi"},
    "y":{"field":"y","type":"quantitative","scale":{"type":"log","domain":[0.1,100],"nice":false},"axis":null}}},
  {"data":{"name":"gam"},"mark":{"type":"rule","color":"black","strokeWidth":2},
   "encoding":{"x":{"field":"E","type":"quantitative","scale":{"type":"log","domain":[0.1,1000000000],"nice":false},"axis":null},
    "y":{"field":"lo","type":"quantitative","scale":{"type":"log","domain":[0.1,100],"nice":false},"axis":null},"y2":{"field":"hi"}}},
  {"data":{"name":"gam"},"mark":{"type":"rule","color":"black","strokeWidth":2},
   "encoding":{"x":{"field":"elo","type":"quantitative","scale":{"type":"log","domain":[0.1,1000000000],"nice":false},"axis":null},"x2":{"field":"ehi"},
    "y":{"field":"y","type":"quantitative","scale":{"type":"log","domain":[0.1,100],"nice":false},"axis":null}}},
  {"data":{"name":"gam"},"mark":{"type":"tick","orient":"horizontal","color":"black","size":9,"thickness":2,"opacity":1},
   "encoding":{"x":{"field":"E","type":"quantitative","scale":{"type":"log","domain":[0.1,1000000000],"nice":false},"axis":null},
    "y":{"field":"lo","type":"quantitative","scale":{"type":"log","domain":[0.1,100],"nice":false},"axis":null}}},
  {"data":{"name":"gam"},"mark":{"type":"tick","orient":"horizontal","color":"black","size":9,"thickness":2,"opacity":1},
   "encoding":{"x":{"field":"E","type":"quantitative","scale":{"type":"log","domain":[0.1,1000000000],"nice":false},"axis":null},
    "y":{"field":"hi","type":"quantitative","scale":{"type":"log","domain":[0.1,100],"nice":false},"axis":null}}},
  {"data":{"name":"gam"},"mark":{"type":"tick","orient":"vertical","color":"black","size":9,"thickness":2,"opacity":1},
   "encoding":{"x":{"field":"elo","type":"quantitative","scale":{"type":"log","domain":[0.1,1000000000],"nice":false},"axis":null},
    "y":{"field":"y","type":"quantitative","scale":{"type":"log","domain":[0.1,100],"nice":false},"axis":null}}},
  {"data":{"name":"gam"},"mark":{"type":"tick","orient":"vertical","color":"black","size":9,"thickness":2,"opacity":1},
   "encoding":{"x":{"field":"ehi","type":"quantitative","scale":{"type":"log","domain":[0.1,1000000000],"nice":false},"axis":null},
    "y":{"field":"y","type":"quantitative","scale":{"type":"log","domain":[0.1,100],"nice":false},"axis":null}}},
  {"data":{"name":"ul"},"mark":{"type":"rule","color":"black","strokeWidth":2},
   "encoding":{"x":{"field":"E","type":"quantitative","scale":{"type":"log","domain":[0.1,1000000000],"nice":false},"axis":null},
    "y":{"field":"bot","type":"quantitative","scale":{"type":"log","domain":[0.1,100],"nice":false},"axis":null},"y2":{"field":"top"}}},
  {"data":{"name":"ul"},"mark":{"type":"rule","color":"black","strokeWidth":2},
   "encoding":{"x":{"field":"elo","type":"quantitative","scale":{"type":"log","domain":[0.1,1000000000],"nice":false},"axis":null},"x2":{"field":"ehi"},
    "y":{"field":"top","type":"quantitative","scale":{"type":"log","domain":[0.1,100],"nice":false},"axis":null}}},
  {"data":{"name":"ul"},"mark":{"type":"tick","orient":"vertical","color":"black","size":10,"thickness":2,"opacity":1},
   "encoding":{"x":{"field":"elo","type":"quantitative","scale":{"type":"log","domain":[0.1,1000000000],"nice":false},"axis":null},
    "y":{"field":"top","type":"quantitative","scale":{"type":"log","domain":[0.1,100],"nice":false},"axis":null}}},
  {"data":{"name":"ul"},"mark":{"type":"tick","orient":"vertical","color":"black","size":10,"thickness":2,"opacity":1},
   "encoding":{"x":{"field":"ehi","type":"quantitative","scale":{"type":"log","domain":[0.1,1000000000],"nice":false},"axis":null},
    "y":{"field":"top","type":"quantitative","scale":{"type":"log","domain":[0.1,100],"nice":false},"axis":null}}},
  {"data":{"name":"arrow"},"mark":{"type":"point","shape":"M-0.28,-1L0.28,-1L0,1Z","size":225,"filled":true,"color":"black","opacity":1},
   "encoding":{"x":{"field":"E","type":"quantitative","scale":{"type":"log","domain":[0.1,1000000000],"nice":false},"axis":null},
    "y":{"field":"y","type":"quantitative","scale":{"type":"log","domain":[0.1,100],"nice":false},"axis":null}}},
  {"data":{"name":"heao"},"mark":{"type":"point","filled":true,"opacity":1,"strokeWidth":1.4,"size":22},
   "encoding":{"x":{"field":"E","type":"quantitative","scale":{"type":"log","domain":[0.1,1000000000],"nice":false},"axis":null},
    "y":{"field":"y","type":"quantitative","scale":{"type":"log","domain":[0.1,100],"nice":false},"axis":null},
    "shape":{"field":"src","type":"nominal","scale":{"domain":["ASCA (Gendreau 1995)","HEAO (LED) (Gruber 1992)","HEAO (MED) (Kinzer et al. 1996)","SMM (Watanabe et al.1997)","APOLLO upp. lim (Trombka 1997)","COMPTEL (Kappadath et.al.1996)","SAS-2 (Thompson & Fichtel 1982)","EGRET (Sreekumar et al 1998)"],"range":["diamond","circle","triangle-up","square","M-1,0L1,0M0,-1L0,1M-0.72,-0.72L0.72,0.72M-0.72,0.72L0.72,-0.72","square","square","circle"]},
      "legend":{"title":null,"orient":"none","legendX":614,"legendY":12,"strokeColor":"black","fillColor":"white","padding":9,"labelFont":"Liberation Serif","labelFontSize":13,"labelColor":"black","rowPadding":4.5,"labelLimit":400,"labelOffset":7,"symbolSize":45,"symbolStrokeWidth":1.5}},
    "fill":{"field":"src","type":"nominal","scale":{"domain":["ASCA (Gendreau 1995)","HEAO (LED) (Gruber 1992)","HEAO (MED) (Kinzer et al. 1996)","SMM (Watanabe et al.1997)","APOLLO upp. lim (Trombka 1997)","COMPTEL (Kappadath et.al.1996)","SAS-2 (Thompson & Fichtel 1982)","EGRET (Sreekumar et al 1998)"],"range":["white","black","white","#c0c0c0","black","white","#c0c0c0","black"]},
      "legend":{"title":null,"orient":"none","legendX":614,"legendY":12,"strokeColor":"black","fillColor":"white","padding":9,"labelFont":"Liberation Serif","labelFontSize":13,"labelColor":"black","rowPadding":4.5,"labelLimit":400,"labelOffset":7,"symbolSize":45,"symbolStrokeWidth":1.5}},
    "stroke":{"field":"src","type":"nominal","scale":{"domain":["ASCA (Gendreau 1995)","HEAO (LED) (Gruber 1992)","HEAO (MED) (Kinzer et al. 1996)","SMM (Watanabe et al.1997)","APOLLO upp. lim (Trombka 1997)","COMPTEL (Kappadath et.al.1996)","SAS-2 (Thompson & Fichtel 1982)","EGRET (Sreekumar et al 1998)"],"range":["black","black","black","#c0c0c0","black","black","#c0c0c0","black"]},
      "legend":{"title":null,"orient":"none","legendX":614,"legendY":12,"strokeColor":"black","fillColor":"white","padding":9,"labelFont":"Liberation Serif","labelFontSize":13,"labelColor":"black","rowPadding":4.5,"labelLimit":400,"labelOffset":7,"symbolSize":45,"symbolStrokeWidth":1.5}}}},
  {"data":{"name":"gam"},"mark":{"type":"point","filled":true,"opacity":1,"strokeWidth":2,"size":28},
   "encoding":{"x":{"field":"E","type":"quantitative","scale":{"type":"log","domain":[0.1,1000000000],"nice":false},"axis":null},
    "y":{"field":"y","type":"quantitative","scale":{"type":"log","domain":[0.1,100],"nice":false},"axis":null},
    "shape":{"field":"src","type":"nominal"},"fill":{"field":"src","type":"nominal"},"stroke":{"field":"src","type":"nominal"}}},
  {"data":{"name":"apollo"},"mark":{"type":"point","filled":true,"opacity":1,"strokeWidth":1,"size":30},
   "encoding":{"x":{"field":"E","type":"quantitative","scale":{"type":"log","domain":[0.1,1000000000],"nice":false},"axis":null},
    "y":{"field":"y","type":"quantitative","scale":{"type":"log","domain":[0.1,100],"nice":false},"axis":null},
    "shape":{"field":"src","type":"nominal"},"fill":{"field":"src","type":"nominal"},"stroke":{"field":"src","type":"nominal"}}},
  {"data":{"name":"gam"},"transform":[{"filter":"datum.src == 'COMPTEL (Kappadath et.al.1996)'"}],"mark":{"type":"square","color":"black","size":30,"opacity":1},
   "encoding":{"x":{"field":"E","type":"quantitative","scale":{"type":"log","domain":[0.1,1000000000],"nice":false},"axis":null},
    "y":{"field":"y","type":"quantitative","scale":{"type":"log","domain":[0.1,100],"nice":false},"axis":null}}},
  {"data":{"name":"labels"},"mark":{"type":"text","font":"Liberation Serif","fontSize":14,"color":"#333","align":"center","baseline":"middle"},
   "encoding":{
    "x":{"field":"E","type":"quantitative","scale":{"type":"log","domain":[0.1,1000000000],"nice":false},
      "axis":{"orient":"top","values":[0.1,0.2,0.3,0.4,0.5,0.6,0.7,0.8,0.9,1,2,3,4,5,6,7,8,9,10,20,30,40,50,60,70,80,90,100,200,300,400,500,600,700,800,900,1000,2000,3000,4000,5000,6000,7000,8000,9000,10000,20000,30000,40000,50000,60000,70000,80000,90000,100000,200000,300000,400000,500000,600000,700000,800000,900000,1000000,2000000,3000000,4000000,5000000,6000000,7000000,8000000,9000000,10000000,20000000,30000000,40000000,50000000,60000000,70000000,80000000,90000000,100000000,200000000,300000000,400000000,500000000,600000000,700000000,800000000,900000000,1000000000],
       "ticks":false,"grid":true,
       "gridDash":{"condition":{"test":"abs(log(datum.value)/LN10-round(log(datum.value)/LN10))<0.001","value":[12,3000]},"value":[7,3000]},
       "gridWidth":{"condition":{"test":"abs(log(datum.value)/LN10-round(log(datum.value)/LN10))<0.001","value":2},"value":1.6},
       "labels":false,"title":null}},
    "y":{"field":"y","type":"quantitative","scale":{"type":"log","domain":[0.1,100],"nice":false},
      "axis":{"orient":"right","values":[0.1,0.2,0.3,0.4,0.5,0.6,0.7,0.8,0.9,1,2,3,4,5,6,7,8,9,10,20,30,40,50,60,70,80,90,100],
       "ticks":false,"grid":true,
       "gridDash":{"condition":{"test":"abs(log(datum.value)/LN10-round(log(datum.value)/LN10))<0.001","value":[12,3000]},"value":[7,3000]},
       "gridWidth":{"condition":{"test":"abs(log(datum.value)/LN10-round(log(datum.value)/LN10))<0.001","value":2},"value":1.6},
       "labels":false,"title":null}},
    "text":{"field":"t"}}}
],
"resolve":{"scale":{"x":"independent","y":"independent"}}
}
